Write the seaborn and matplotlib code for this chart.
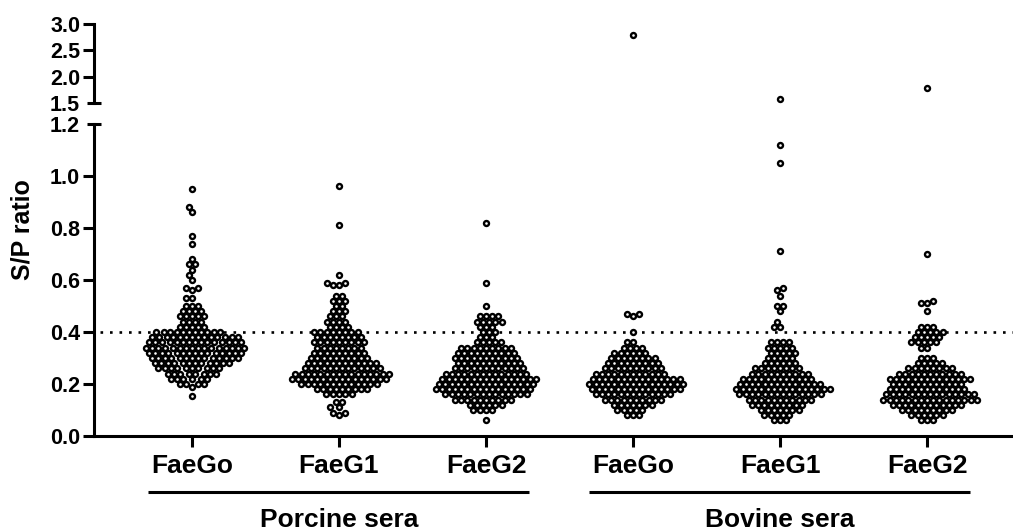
import numpy as np
import pandas as pd
import matplotlib
matplotlib.use("Agg")
import matplotlib.pyplot as plt
import matplotlib.transforms as mtransforms
import seaborn as sns

# ---------------- data (value levels and number of sera at each) -------------
groups = ["Porcine FaeGo", "Porcine FaeG1", "Porcine FaeG2",
          "Bovine FaeGo", "Bovine FaeG1", "Bovine FaeG2"]
tick_labels = ["FaeGo", "FaeG1", "FaeG2", "FaeGo", "FaeG1", "FaeG2"]
sera_labels = ["Porcine sera", "Bovine sera"]
cutoff = 0.4

p_go_levels = [0.95, 0.88, 0.86, 0.77, 0.74, 0.68, 0.66, 0.64, 0.62, 0.60, 0.57, 0.56, 0.53,
               0.50, 0.48, 0.46, 0.44, 0.42, 0.40, 0.38, 0.36, 0.34, 0.32, 0.30, 0.28, 0.26,
               0.24, 0.22, 0.20, 0.19, 0.155]
p_go_counts = [1, 1, 1, 1, 1, 1, 2, 1, 1, 1, 2, 1, 2,
               3, 4, 5, 4, 5, 11, 14, 15, 16, 15, 14, 12, 10,
               8, 6, 4, 1, 1]

p_g1_levels = [0.96, 0.81, 0.62, 0.59, 0.58, 0.54, 0.52, 0.50, 0.48, 0.46, 0.44, 0.42,
               0.40, 0.38, 0.36, 0.34, 0.32, 0.30, 0.28, 0.26, 0.24, 0.22, 0.20, 0.18,
               0.16, 0.13, 0.11, 0.09, 0.08]
p_g1_counts = [1, 1, 1, 2, 2, 2, 3, 2, 3, 3, 4, 4,
               8, 8, 9, 8, 9, 10, 12, 13, 16, 16, 13, 9,
               5, 2, 2, 2, 1]

p_g2_levels = [0.82, 0.59, 0.50, 0.46, 0.44, 0.42, 0.40, 0.38, 0.36, 0.34, 0.32, 0.30,
               0.28, 0.26, 0.24, 0.22, 0.20, 0.18, 0.16, 0.14, 0.12, 0.10, 0.06]
p_g2_counts = [1, 1, 1, 4, 5, 3, 3, 3, 5, 9, 10, 11,
               11, 12, 14, 16, 16, 16, 14, 10, 6, 4, 1]

b_go_levels = [2.79, 0.47, 0.46, 0.40, 0.36, 0.34, 0.32, 0.30, 0.28, 0.26, 0.24, 0.22,
               0.20, 0.18, 0.16, 0.14, 0.12, 0.10, 0.08]
b_go_counts = [1, 2, 1, 1, 2, 4, 6, 8, 9, 10, 12, 15,
               16, 15, 13, 10, 7, 5, 3]

b_g1_levels = [1.58, 1.12, 1.05, 0.71, 0.57, 0.56, 0.54, 0.50, 0.48, 0.44, 0.42, 0.36,
               0.34, 0.32, 0.30, 0.28, 0.26, 0.24, 0.22, 0.20, 0.18, 0.16, 0.14, 0.12,
               0.10, 0.08, 0.06]
b_g1_counts = [1, 1, 1, 1, 1, 1, 1, 2, 1, 1, 2, 4,
               5, 5, 5, 6, 8, 10, 12, 14, 16, 14, 11, 9,
               7, 5, 3]

b_g2_levels = [1.78, 0.70, 0.52, 0.51, 0.48, 0.42, 0.40, 0.38, 0.36, 0.34, 0.30, 0.28,
               0.26, 0.24, 0.22, 0.20, 0.18, 0.16, 0.14, 0.12, 0.10, 0.08, 0.06]
b_g2_counts = [1, 1, 1, 2, 1, 3, 5, 5, 5, 2, 3, 5,
               8, 11, 14, 12, 13, 15, 16, 12, 9, 6, 3]

levels_all = [p_go_levels, p_g1_levels, p_g2_levels, b_go_levels, b_g1_levels, b_g2_levels]
counts_all = [p_go_counts, p_g1_counts, p_g2_counts, b_go_counts, b_g1_counts, b_g2_counts]

rows = []
for g, lv, ct in zip(groups, levels_all, counts_all):
    for v, c in zip(lv, ct):
        rows.extend([(g, v)] * c)
df = pd.DataFrame(rows, columns=["group", "ratio"])

# ---------------- figure ----------------
sns.set_style("ticks")
plt.rcParams["font.family"] = ["Liberation Sans", "DejaVu Sans"]
plt.rcParams["font.weight"] = "bold"
for k in ("text.color", "axes.labelcolor", "xtick.color", "ytick.color", "axes.edgecolor"):
    plt.rcParams[k] = "black"

W, H = 1013, 532
fig = plt.figure(figsize=(W / 100, H / 100), dpi=100)


def rect(l, t, r, b):
    return [l / W, 1 - b / H, (r - l) / W, (b - t) / H]


ax = fig.add_axes(rect(94, 124, 1013, 436))
axt = fig.add_axes(rect(94, 24, 1013, 103))

# swarm laid out with slightly smaller markers (GraphPad-like overlap), drawn larger afterwards
kw = dict(x="group", y="ratio", order=groups, color="white", edgecolor="black",
          linewidth=1.0, size=3.3, warn_thresh=1.0, zorder=3)
sns.swarmplot(data=df[df.ratio < 1.5], ax=ax, **kw)
sns.swarmplot(data=df[df.ratio >= 1.5], ax=axt, **kw)

xlim = ((94 - 192) / 147, (1013 - 192) / 147)
lw = 2.2
for a in (ax, axt):
    a.set_xlim(*xlim)
    a.set_xlabel("")
    a.set_ylabel("")
    for s in ("top", "right"):
        a.spines[s].set_visible(False)
    a.spines["left"].set_linewidth(lw)
    a.tick_params(axis="y", which="major", length=8, width=lw, labelsize=15.5, pad=2,
                  direction="out", color="black", labelcolor="black")
    a.tick_params(axis="y", which="minor", length=9.5, width=lw, labelsize=15.5, pad=5.3,
                  direction="inout", color="black", labelcolor="black")

# lower panel
ax.set_ylim(0, 1.2)
ax.set_yticks([0.0, 0.2, 0.4, 0.6, 0.8, 1.0],
              labels=["0.0", "0.2", "0.4", "0.6", "0.8", "1.0"])
ax.set_yticks([1.2], labels=["1.2"], minor=True)
ax.spines["bottom"].set_linewidth(lw)
ax.set_xticks(range(len(groups)), labels=tick_labels)
ax.tick_params(axis="x", length=8, width=lw, labelsize=19, pad=5, color="black",
               labelcolor="black")
ax.axhline(cutoff, xmin=(100 - 94) / (1013 - 94), xmax=1, color="black", lw=1.9,
           linestyle=(0, (1, 2.6)), zorder=0.5)

# upper panel
axt.set_ylim(1.5, 3.0)
axt.set_yticks([2.0, 2.5, 3.0], labels=["2.0", "2.5", "3.0"])
axt.set_yticks([1.5], labels=["1.5"], minor=True)
axt.spines["bottom"].set_visible(False)
axt.set_xticks([])

for a in (ax, axt):
    for t in a.get_xticklabels() + a.get_yticklabels(which="both"):
        t.set_fontweight("bold")

# group underlines and labels
trans = mtransforms.blended_transform_factory(ax.transData, fig.transFigure)
line_y = 1 - 492 / H
text_y = 1 - 520 / H
for i, lab in enumerate(sera_labels):
    x0, x1 = 3 * i - 0.3, 3 * i + 2 + 0.29
    ax.plot([x0, x1], [line_y, line_y], transform=trans, clip_on=False,
            color="black", lw=lw, solid_capstyle="butt")
    ax.text(3 * i + 1, text_y, lab, transform=trans, ha="center", va="center",
            fontsize=19, fontweight="bold")

fig.text(23 / W, 1 - 230 / H, "S/P ratio", rotation=90, ha="center", va="center",
         fontsize=18, fontweight="bold")

# compute the swarm once, then freeze positions and enlarge the markers
fig.canvas.draw()
for a in (ax, axt):
    for coll in a.collections:
        if "draw" in coll.__dict__:
            del coll.draw
        coll.set_sizes([3.6 ** 2])
        coll.set_linewidth(1.7)

fig.savefig("out.png", dpi=100)
